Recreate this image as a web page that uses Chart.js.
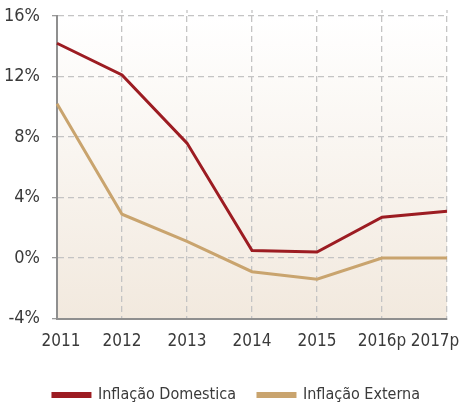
<!DOCTYPE html>
<html>
<head>
<meta charset="utf-8">
<script src="https://cdn.jsdelivr.net/npm/chart.js@4"></script>
<style>
  html, body { margin: 0; padding: 0; background: #ffffff; }
  #wrap { width: 462px; height: 408px; }
</style>
</head>
<body>
<div id="wrap"><canvas id="inflation-chart"></canvas></div>
<script>
// Chart data
const years = ["2011", "2012", "2013", "2014", "2015", "2016p", "2017p"];
const domestica = [14.2, 12.1, 7.6, 0.5, 0.4, 2.7, 3.1];
const externa = [10.2, 2.9, 1.1, -0.9, -1.4, 0, 0];
const yTicks = [-4, 0, 4, 8, 12, 16];

const fontFamily = "'Liberation Sans Narrow', 'DejaVu Sans Condensed', 'Roboto', sans-serif";
const textColor = "#3a3a3a";
const gridColor = "#c4c4c4";

// Soft beige gradient behind the plot area
const plotBackground = {
  id: "plotBackground",
  afterLayout(chart) {
    // legend sits a bit right of centre in the original
    if (chart.legend) {
      chart.legend.left += 13;
      chart.legend.right += 13;
    }
  },
  beforeDraw(chart) {
    const { ctx, chartArea } = chart;
    const grad = ctx.createLinearGradient(0, chartArea.top, 0, chartArea.bottom);
    grad.addColorStop(0, "#ffffff");
    grad.addColorStop(1, "#f2e9de");
    ctx.save();
    ctx.fillStyle = grad;
    ctx.fillRect(chartArea.left, chartArea.top, chartArea.right - chartArea.left, chartArea.bottom - chartArea.top);
    ctx.restore();

    // pull the first and last year labels inwards so 2017p fits
    const items = chart.scales.x.getLabelItems();
    if (items.length) {
      items[0].options.translation[0] += 4;
      items[items.length - 1].options.translation[0] -= 12;
    }
  },
  // vertical grid lines poke a little above the plot
  afterDraw(chart) {
    const { ctx, chartArea } = chart;
    const xScale = chart.scales.x;
    ctx.save();
    ctx.strokeStyle = gridColor;
    ctx.lineWidth = 1.3;
    ctx.setLineDash([3, 3]);
    xScale.ticks.forEach((t, i) => {
      if (i === 0) return;
      const x = xScale.getPixelForTick(i);
      ctx.beginPath();
      ctx.moveTo(x, chartArea.top - 6);
      ctx.lineTo(x, chartArea.top);
      ctx.stroke();
    });
    ctx.restore();
  },
};

const ctx = document.getElementById("inflation-chart").getContext("2d");
new Chart(ctx, {
  type: "line",
  data: {
    labels: years,
    datasets: [
      {
        label: "Inflação Domestica",
        data: domestica,
        borderColor: "#9c1c22",
        backgroundColor: "#9c1c22",
        borderWidth: 3,
        pointRadius: 0,
        tension: 0,
      },
      {
        label: "Inflação Externa",
        data: externa,
        borderColor: "#c9a46e",
        backgroundColor: "#c9a46e",
        borderWidth: 3,
        pointRadius: 0,
        tension: 0,
      },
    ],
  },
  options: {
    responsive: true,
    maintainAspectRatio: false,
    animation: false,
    layout: { padding: { top: 16, right: 15, left: 0, bottom: -5 } },
    plugins: {
      tooltip: { enabled: false },
      legend: {
        position: "bottom",
        labels: {
          boxWidth: 37,
          boxHeight: 3,
          padding: 22,
          color: textColor,
          font: { family: fontFamily, size: 16 },
        },
      },
    },
    scales: {
      x: {
        offset: false,
        grid: {
          color: gridColor,
          lineWidth: 1.3,
          drawTicks: false,
        },
        border: { display: true, color: "#8f8f8f", width: 2, dash: [6, 4] },
        ticks: {
          color: textColor,
          font: { family: fontFamily, size: 17 },
          padding: 13,
          maxRotation: 0,
          autoSkip: false,
        },
        afterFit(scale) {
          scale.paddingLeft = 0;
          scale.paddingRight = 0;
        },
      },
      y: {
        min: -4,
        max: 16,
        afterBuildTicks(scale) {
          scale.ticks = yTicks.map((v) => ({ value: v }));
        },
        grid: {
          color: gridColor,
          lineWidth: 1.3,
          tickLength: 5,
          tickColor: "#9a9a9a",
          tickBorderDash: [],
        },
        border: { display: true, color: "#8f8f8f", width: 2, dash: [6, 4] },
        ticks: {
          color: textColor,
          font: { family: fontFamily, size: 18 },
          padding: 12,
          callback: (v) => v + "%",
        },
        afterFit(scale) {
          scale.width = 57;
          scale.paddingTop = 0;
          scale.paddingBottom = 0;
        },
      },
    },
  },
  plugins: [plotBackground],
});
</script>
</body>
</html>
